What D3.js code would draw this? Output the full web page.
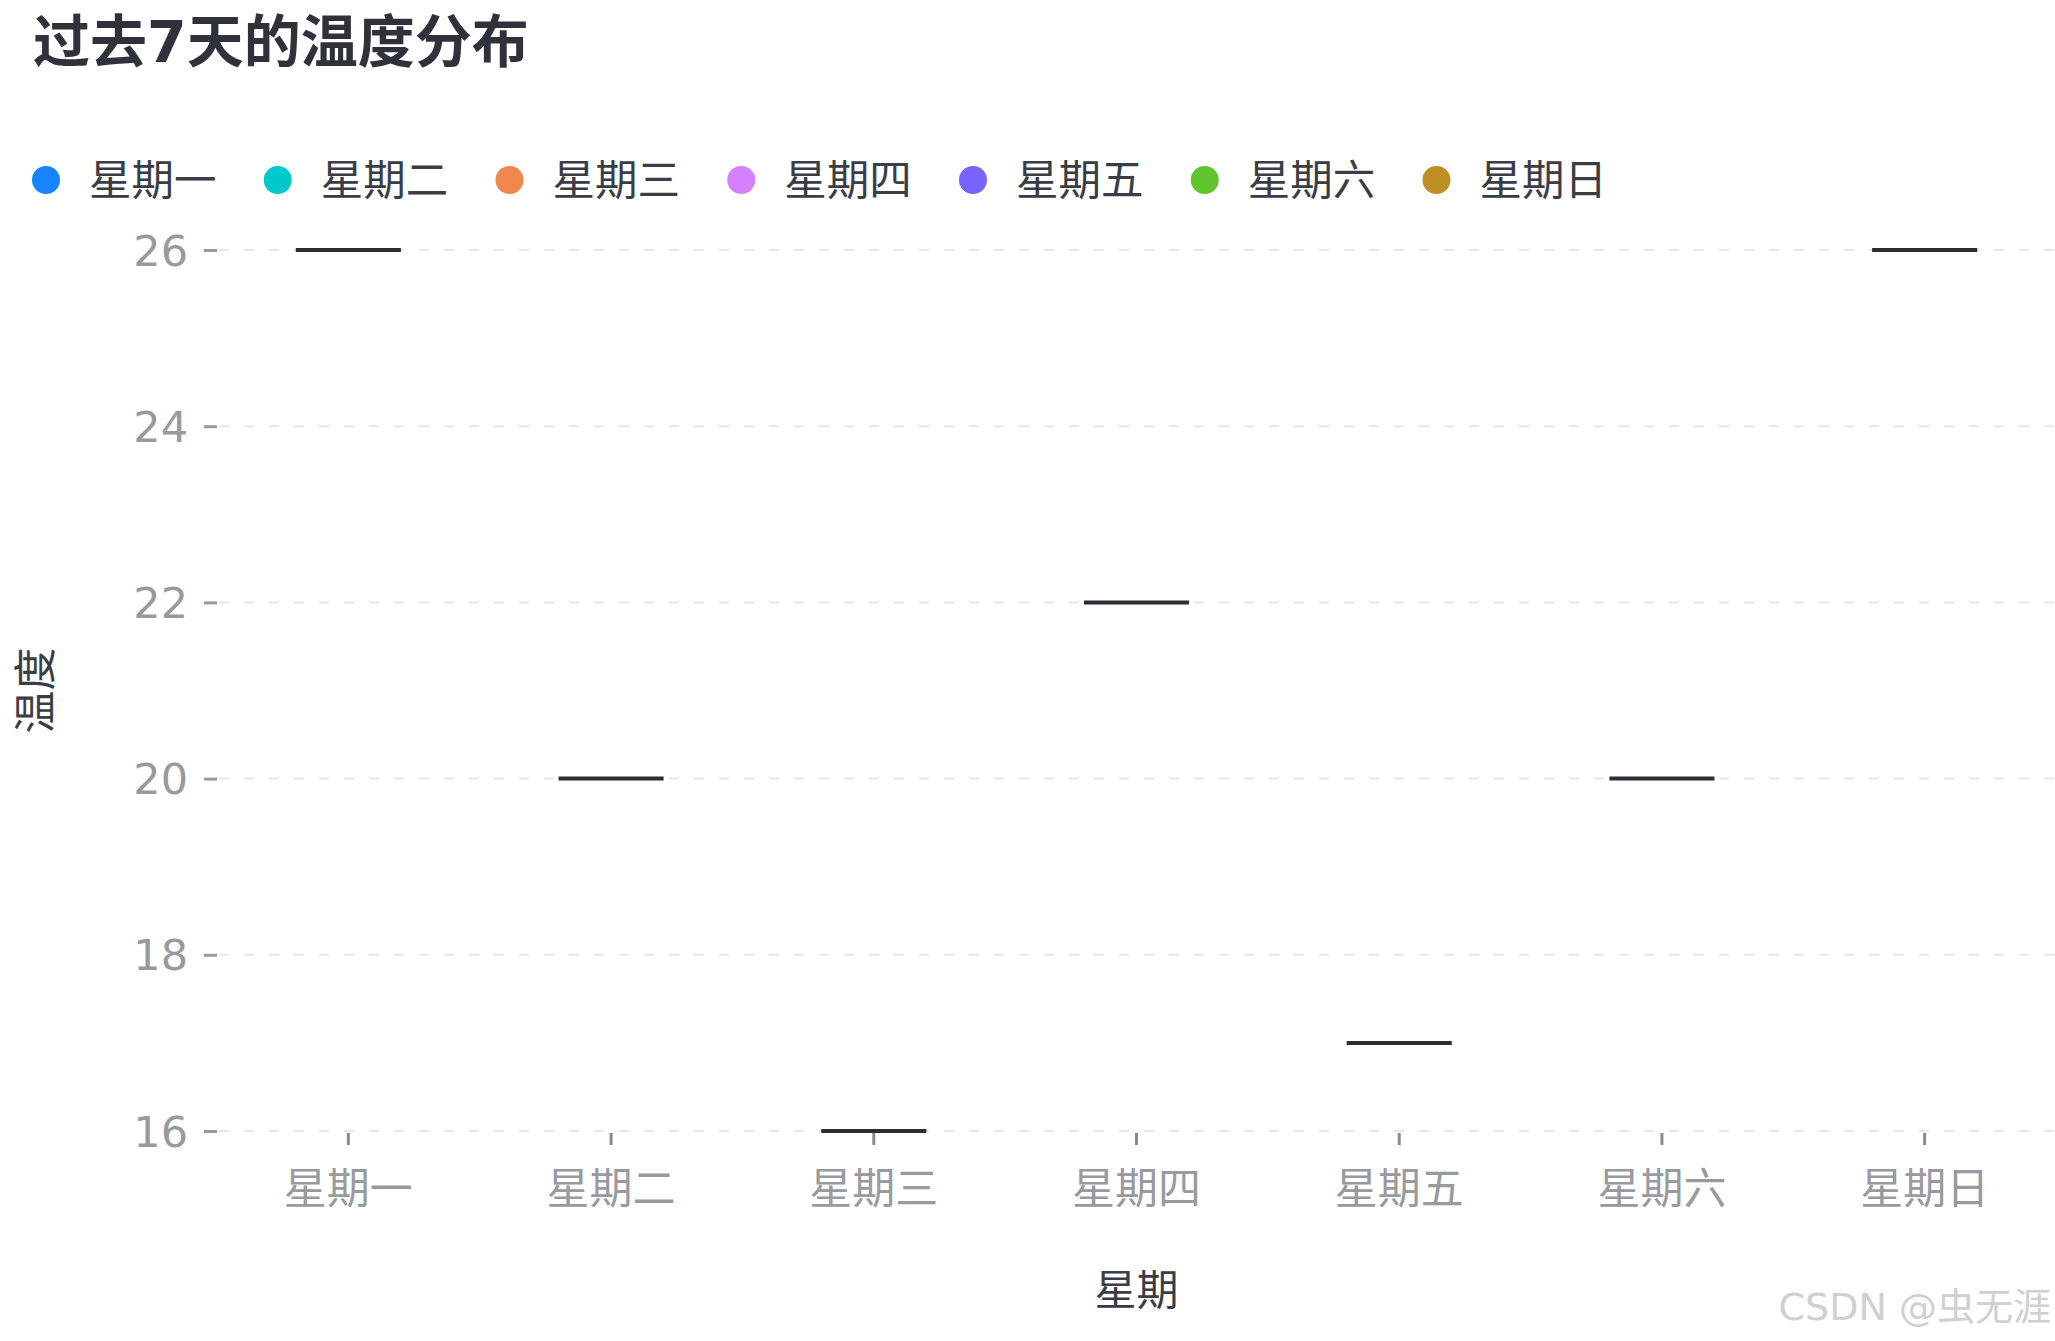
<!DOCTYPE html>
<html>
<head>
<meta charset="utf-8">
<script src="https://cdn.jsdelivr.net/npm/d3@7/dist/d3.min.js"></script>
<style>
  html, body { margin: 0; padding: 0; background: #fff; }
  svg { display: block; }
  text { font-family: "DejaVu Sans", "Noto Sans CJK SC", sans-serif; }
</style>
</head>
<body>
<svg id="chart" width="2055" height="1341"></svg>
<script>
const days = ['星期一', '星期二', '星期三', '星期四', '星期五', '星期六', '星期日'];
const temps = [26, 20, 16, 22, 17, 20, 26];
const colors = ['#1783FF', '#00C9C9', '#F0884D', '#D580FF', '#7863FF', '#60C42D', '#BD8F24'];
const yTicks = [16, 18, 20, 22, 24, 26];
const titleText = '过去7天的温度分布';
const xTitle = '星期';
const yTitle = '温度';
const watermark = 'CSDN @虫无涯';

const svg = d3.select('#chart');
const W = 2055, H = 1341;
const plot = { left: 217, right: 2056, top: 250, bottom: 1131 };

const x = d3.scaleBand().domain(days).range([plot.left, plot.right]).padding(0);
const y = d3.scaleLinear().domain([16, 26]).range([plot.bottom, plot.top]);
const color = d3.scaleOrdinal().domain(days).range(colors);

// Title
svg.append('text')
  .attr('x', 33).attr('y', 42)
  .attr('dominant-baseline', 'central')
  .attr('font-family', '"Noto Sans CJK SC", sans-serif')
  .attr('font-weight', 'bold')
  .attr('font-size', 57)
  .attr('fill', '#2f323a')
  .text(titleText);

// Legend
const legend = svg.append('g');
days.forEach((d, i) => {
  const gx = 46 + i * 231.75;
  legend.append('circle')
    .attr('cx', gx).attr('cy', 180).attr('r', 14)
    .attr('fill', color(d));
  legend.append('text')
    .attr('x', gx + 43).attr('y', 180)
    .attr('dominant-baseline', 'central')
    .attr('font-family', '"Noto Sans CJK SC", sans-serif')
    .attr('font-size', 42.5)
    .attr('fill', '#3a3d45')
    .text(d);
});

// Gridlines
svg.append('g')
  .selectAll('line')
  .data(yTicks)
  .join('line')
  .attr('x1', 219).attr('x2', W)
  .attr('y1', d => y(d)).attr('y2', d => y(d))
  .attr('stroke', '#e6e6e6')
  .attr('stroke-width', 2)
  .attr('stroke-dasharray', '10,15');

// Y axis
const yAxis = d3.axisLeft(y).tickValues(yTicks).tickSize(13).tickPadding(16).tickFormat(d3.format('d'));
const gy = svg.append('g').attr('transform', `translate(217,0)`).call(yAxis);
gy.select('.domain').remove();
gy.selectAll('.tick line').attr('stroke', '#9a9a9a').attr('stroke-width', 3);
gy.selectAll('.tick text')
  .attr('font-size', 43)
  .attr('fill', '#999a9e')
  .attr('font-family', '"DejaVu Sans", sans-serif')
  .attr('dy', '0.35em');

// X axis
const xAxis = d3.axisBottom(x).tickSize(12).tickPadding(27);
const gx = svg.append('g').attr('transform', `translate(0,${plot.bottom + 2})`).call(xAxis);
gx.select('.domain').remove();
gx.selectAll('.tick line').attr('stroke', '#8a8a8a').attr('stroke-width', 3);
gx.selectAll('.tick text')
  .attr('font-size', 43)
  .attr('fill', '#999a9e')
  .attr('font-family', '"Noto Sans CJK SC", sans-serif')
  .attr('dy', '0.75em');

// Axis titles
svg.append('text')
  .attr('x', (plot.left + plot.right) / 2).attr('y', 1290)
  .attr('text-anchor', 'middle')
  .attr('dominant-baseline', 'central')
  .attr('font-family', '"Noto Sans CJK SC", sans-serif')
  .attr('font-size', 42)
  .attr('fill', '#3a3d45')
  .text(xTitle);

svg.append('text')
  .attr('transform', `translate(36,${(plot.top + plot.bottom) / 2}) rotate(-90)`)
  .attr('text-anchor', 'middle')
  .attr('dominant-baseline', 'central')
  .attr('font-family', '"Noto Sans CJK SC", sans-serif')
  .attr('font-size', 43)
  .attr('fill', '#3a3d45')
  .text(yTitle);

// Box marks (degenerate boxes -> median lines)
const bw = x.bandwidth() * 0.4;
svg.append('g')
  .selectAll('line')
  .data(days.map((d, i) => ({ day: d, v: temps[i] })))
  .join('line')
  .attr('x1', d => x(d.day) + x.bandwidth() / 2 - bw / 2)
  .attr('x2', d => x(d.day) + x.bandwidth() / 2 + bw / 2)
  .attr('y1', d => y(d.v)).attr('y2', d => y(d.v))
  .attr('stroke', '#2a2e36')
  .attr('stroke-width', 4);

// Watermark
svg.append('text')
  .attr('x', 2051).attr('y', 1307)
  .attr('text-anchor', 'end')
  .attr('dominant-baseline', 'central')
  .attr('font-family', '"Liberation Sans", "Noto Sans CJK SC", sans-serif')
  .attr('font-size', 38)
  .attr('fill', '#d0d0d0')
  .text(watermark);
</script>
</body>
</html>
